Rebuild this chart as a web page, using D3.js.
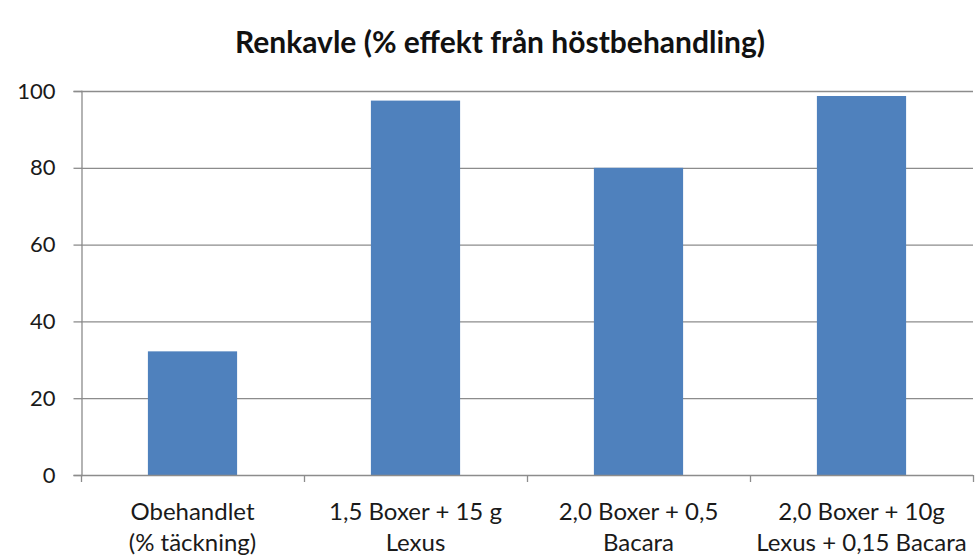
<!DOCTYPE html>
<html>
<head>
<meta charset="utf-8">
<script src="https://cdn.jsdelivr.net/npm/d3@7"></script>
<style>
  body { margin: 0; background: #fff; }
  svg { display: block; }
</style>
</head>
<body>
<script>
// data
const categories = [
  ["Obehandlet", "(% täckning)"],
  ["1,5 Boxer + 15 g", "Lexus"],
  ["2,0 Boxer + 0,5", "Bacara"],
  ["2,0 Boxer + 10g", "Lexus + 0,15 Bacara"]
];
const values = [32.2, 97.5, 80, 98.7];
const yTicks = [0, 20, 40, 60, 80, 100];
const title = "Renkavle (% effekt från höstbehandling)";

const width = 976, height = 559;
const margin = { top: 91, right: 3, bottom: 84, left: 81 };
const font = "Lato, 'Open Sans', sans-serif";

const svg = d3.select("body").append("svg")
  .attr("width", width)
  .attr("height", height);

const x = d3.scaleBand()
  .domain(d3.range(categories.length))
  .range([margin.left, width - margin.right])
  .paddingInner(0.6)
  .paddingOuter(0.3);

const y = d3.scaleLinear()
  .domain([0, 100])
  .range([height - margin.bottom, margin.top]);

// gridlines
svg.append("g")
  .selectAll("line")
  .data(yTicks.filter(d => d > 0))
  .enter().append("line")
  .attr("x1", margin.left)
  .attr("x2", width - margin.right)
  .attr("y1", d => y(d) + 0.5)
  .attr("y2", d => y(d) + 0.5)
  .attr("stroke", "#8c8c8c")
  .attr("stroke-width", 1.3);

// bars
svg.append("g")
  .selectAll("rect")
  .data(values)
  .enter().append("rect")
  .attr("x", (d, i) => x(i))
  .attr("y", d => y(d))
  .attr("width", x.bandwidth())
  .attr("height", d => y(0) - y(d))
  .attr("fill", "#4f81bd");

// y axis
const yAxis = svg.append("g")
  .attr("transform", `translate(${margin.left + 0.5},0)`)
  .call(d3.axisLeft(y).tickValues(yTicks).tickSize(8).tickPadding(18));
yAxis.selectAll("line, path").attr("stroke", "#8c8c8c").attr("stroke-width", 1.3);
yAxis.selectAll("text")
  .attr("font-family", font)
  .attr("font-size", 22)
  .attr("fill", "#1a1a1a");

// x axis: ticks on category boundaries
const step = x.step();
const xBase = svg.append("g");
xBase.append("line")
  .attr("x1", margin.left)
  .attr("x2", width - margin.right)
  .attr("y1", y(0) + 0.5)
  .attr("y2", y(0) + 0.5)
  .attr("stroke", "#8c8c8c")
  .attr("stroke-width", 1.3);
xBase.selectAll(".tick")
  .data(d3.range(categories.length + 1))
  .enter().append("line")
  .attr("x1", i => margin.left + i * step + 0.5)
  .attr("x2", i => margin.left + i * step + 0.5)
  .attr("y1", y(0))
  .attr("y2", y(0) + 7)
  .attr("stroke", "#8c8c8c")
  .attr("stroke-width", 1.3);

// category labels
const labels = svg.append("g")
  .selectAll("text")
  .data(categories)
  .enter().append("text")
  .attr("text-anchor", "middle")
  .attr("font-family", font)
  .attr("font-size", 24)
  .attr("fill", "#1a1a1a")
  .attr("transform", (d, i) => `translate(${x(i) + x.bandwidth() / 2},${y(0) + 45})`);

labels.selectAll("tspan")
  .data(d => d)
  .enter().append("tspan")
  .attr("x", 0)
  .attr("dy", (d, i) => i === 0 ? 0 : 31)
  .text(d => d);

// title
svg.append("text")
  .attr("x", 500)
  .attr("y", 53)
  .attr("text-anchor", "middle")
  .attr("font-family", font)
  .attr("font-weight", "bold")
  .attr("font-size", 30)
  .attr("fill", "#111")
  .text(title);
</script>
</body>
</html>
